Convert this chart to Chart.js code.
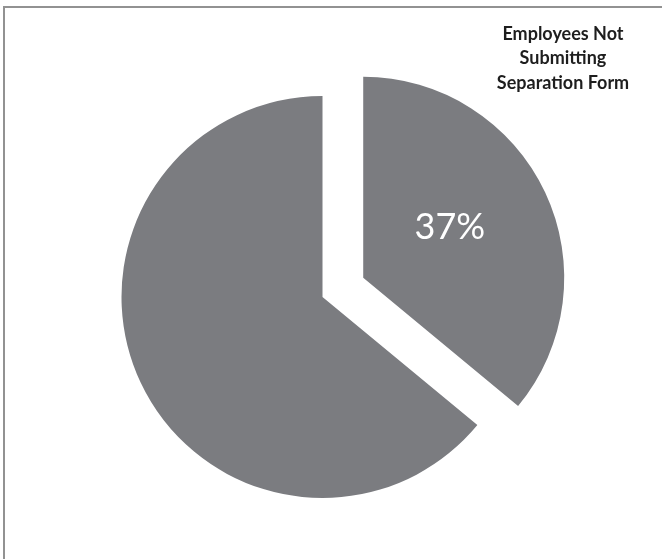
<!DOCTYPE html>
<html lang="en">
<head>
  <meta charset="UTF-8" />
  <title>Employees Not Submitting Separation Form</title>
  <script src="https://cdn.jsdelivr.net/npm/chart.js"></script>
  <style>
    html, body { margin: 0; padding: 0; background: #fff; }
    .frame { position: absolute; left: 3px; top: 6px; width: 662px; height: 560px;
             border-top: 2px solid #929292; border-left: 2px solid #929292; }
    .wrap { position: absolute; left: 0; top: 0; width: 662px; height: 559px; }
  </style>
</head>
<body>
<div class="frame"></div>
<div class="wrap"><canvas id="pie" width="662" height="559"></canvas></div>

<script>
  // data
  const categories = ['Not Submitting', 'Submitting'];
  const shares = [36, 64];
  const sliceLabels = ['37%', ''];
  const titleLines = ['Employees Not', 'Submitting', 'Separation Form'];

  const sliceColor = '#7b7c80';
  const explode = [45, 0];   // px each slice is pulled out

  // draw arcs ourselves so the exploded slice keeps its radius
  const explodePlugin = {
    id: 'explode',
    beforeDatasetDraw(chart, args) {
      const ctx = chart.ctx;
      args.meta.data.forEach((arc, i) => {
        const mid = (arc.startAngle + arc.endAngle) / 2;
        ctx.save();
        ctx.translate(Math.cos(mid) * explode[i], Math.sin(mid) * explode[i]);
        arc.draw(ctx, chart.chartArea);
        ctx.restore();
      });
      return false;
    },
    afterDatasetsDraw(chart) {
      const ctx = chart.ctx;
      ctx.save();
      ctx.fillStyle = '#ffffff';
      ctx.font = '36px Lato, "Open Sans", sans-serif';
      ctx.textAlign = 'center';
      ctx.textBaseline = 'middle';
      chart.getDatasetMeta(0).data.forEach((arc, i) => {
        if (!sliceLabels[i]) return;
        const mid = (arc.startAngle + arc.endAngle) / 2;
        const a = arc.startAngle + (arc.endAngle - arc.startAngle) * 0.46;
        const r = arc.outerRadius * 0.5;
        const x = arc.x + Math.cos(mid) * explode[i] + Math.cos(a) * r;
        const y = arc.y + Math.sin(mid) * explode[i] + Math.sin(a) * r;
        ctx.fillText(sliceLabels[i], x, y);
      });

      ctx.fillStyle = '#1e1e1e';
      ctx.font = 'bold 18px Lato, "Open Sans", sans-serif';
      titleLines.forEach((t, i) => ctx.fillText(t, 563, 34 + i * 24.5));
      ctx.restore();
    }
  };

  new Chart(document.getElementById('pie'), {
    type: 'pie',
    data: {
      labels: categories,
      datasets: [{
        data: shares,
        backgroundColor: sliceColor,
        borderWidth: 0,
        hoverOffset: 0
      }]
    },
    options: {
      responsive: false,
      animation: false,
      events: [],
      radius: 201,
      layout: { padding: { left: 99, top: 73.5, right: 116, bottom: 38.5 } },
      plugins: { legend: { display: false }, tooltip: { enabled: false } }
    },
    plugins: [explodePlugin]
  });
</script>
</body>
</html>
